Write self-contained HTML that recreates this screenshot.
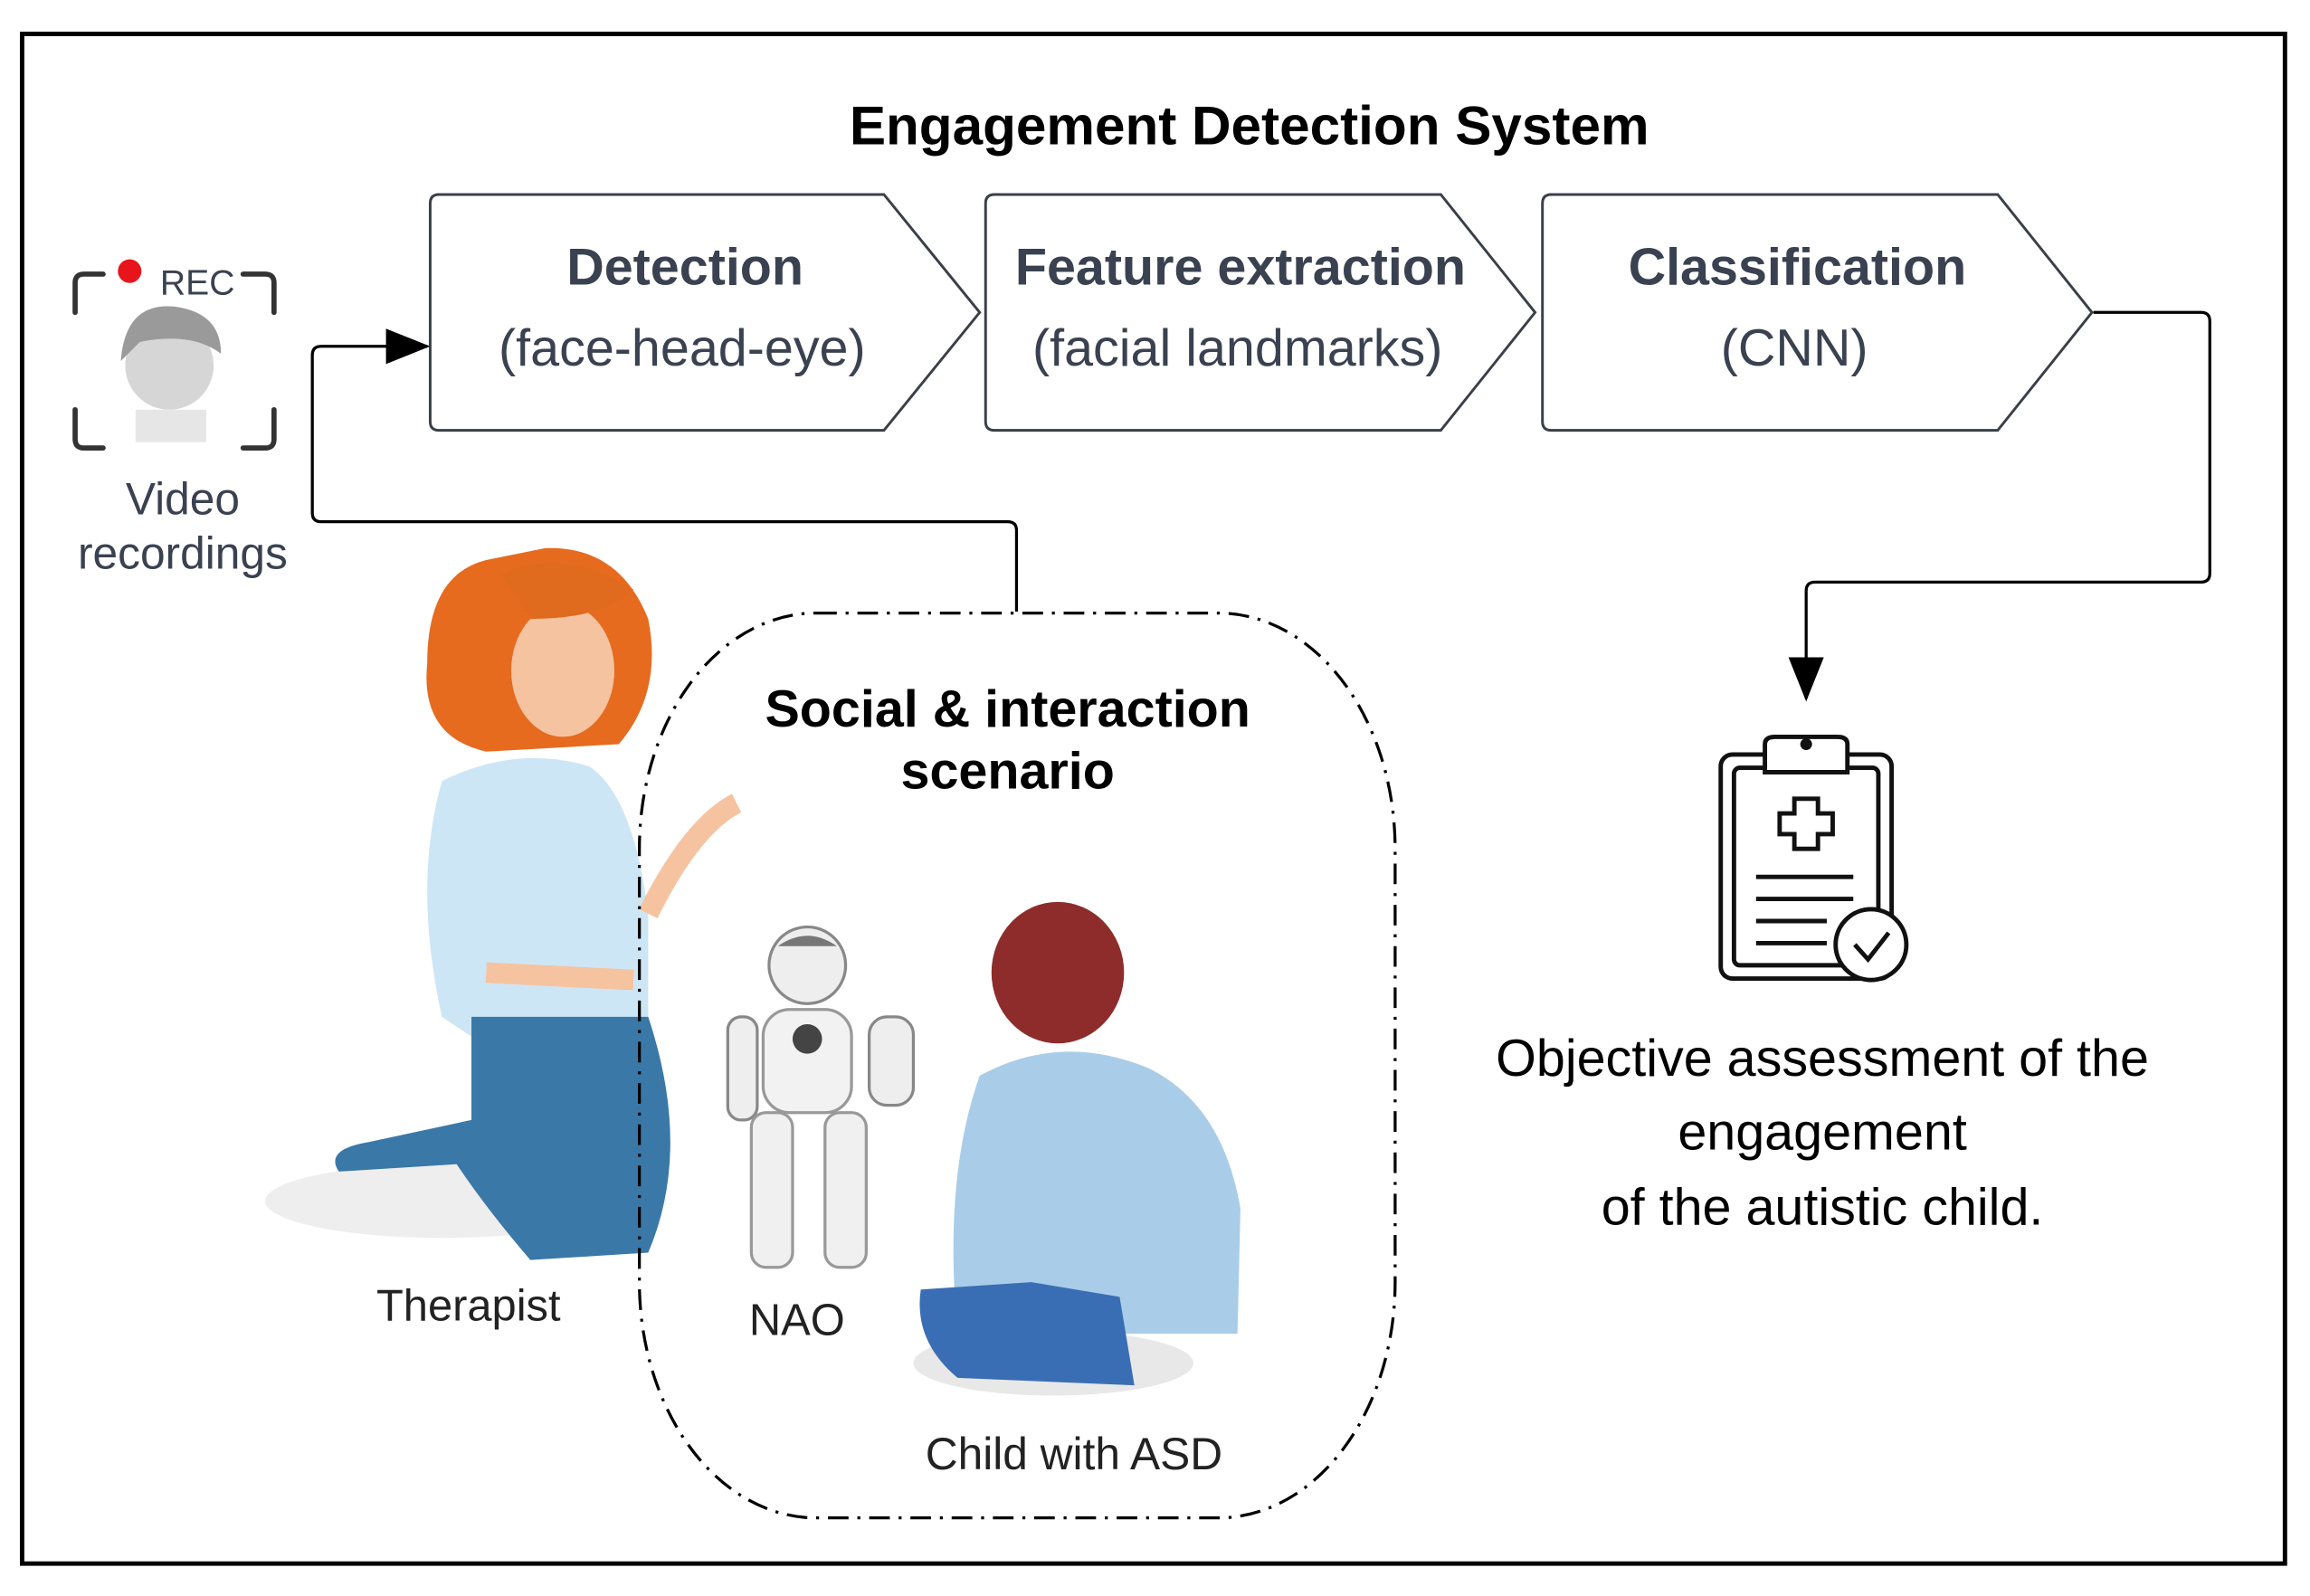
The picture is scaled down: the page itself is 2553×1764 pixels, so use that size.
<!DOCTYPE html>
<html><head><meta charset="utf-8"><style>
html,body{margin:0;padding:0;background:#fff}
svg{display:block}
text{font-family:"Liberation Sans",sans-serif}
</style></head><body>
<svg width="2553" height="1764" viewBox="0 0 1568 1083" preserveAspectRatio="none" xmlns="http://www.w3.org/2000/svg">
<defs>
<marker id="ah" markerWidth="30" markerHeight="24" refX="28" refY="12" orient="auto" markerUnits="userSpaceOnUse" viewBox="0 0 30 24">
<path d="M0,0 L30,12 L0,24 z" fill="#000"/></marker>
</defs>
<rect x="0" y="0" width="1568" height="1083" fill="#fff"/>
<rect x="15" y="23" width="1536" height="1038" fill="none" stroke="#000" stroke-width="3"/>
<text x="848" y="98" text-anchor="middle" font-size="37" font-weight="bold" fill="#000">Engagement Detection System</text>

<g fill="#fff" stroke="#3a3f48" stroke-width="1.8">
<path d="M298,132 L600,132 L665,212 L600,292 L298,292 Q292,292 292,286 L292,138 Q292,132 298,132 z"/>
<path d="M675,132 L978,132 L1042,212 L978,292 L675,292 Q669,292 669,286 L669,138 Q669,132 675,132 z"/>
<path d="M1053,132 L1356,132 L1420,212 L1356,292 L1053,292 Q1047,292 1047,286 L1047,138 Q1047,132 1053,132 z"/>
</g>
<g fill="#3a4150" font-size="35.3" text-anchor="middle">
<text x="465" y="193" font-weight="bold">Detection</text>
<text x="463" y="248">(face-head-eye)</text>
<text x="842" y="193" font-weight="bold">Feature extraction</text>
<text x="840" y="248">(facial landmarks)</text>
<text x="1220" y="193" font-weight="bold">Classification</text>
<text x="1218" y="248">(CNN)</text>
</g>

<!-- REC icon -->
<g fill="none" stroke="#333" stroke-width="3.5" stroke-linecap="round">
<path d="M51,212 L51,192 Q51,186 57,186 L70,186"/>
<path d="M165,186 L180,186 Q186,186 186,192 L186,212"/>
<path d="M51,278 L51,298 Q51,304 57,304 L70,304"/>
<path d="M165,304 L180,304 Q186,304 186,298 L186,278"/>
</g>
<circle cx="88" cy="184" r="8" fill="#e8141c"/>
<text x="134" y="200" text-anchor="middle" font-size="24" fill="#3a4150">REC</text>
<circle cx="115" cy="248" r="30" fill="#d6d6d6"/>
<path d="M82,245 Q85,205 118,208 Q150,212 150,240 Q130,225 95,232 z" fill="#9a9a9a"/>
<rect x="92" y="278" width="48" height="22" fill="#e6e6e6"/>
<text x="124" y="349" text-anchor="middle" font-size="30.5" fill="#3a4150">Video</text>
<text x="124" y="386" text-anchor="middle" font-size="30.5" fill="#3a4150">recordings</text>

<!-- connectors -->
<path d="M690,415 L690,360 Q690,354 684,354 L218,354 Q212,354 212,348 L212,241 Q212,235 218,235 L290,235" fill="none" stroke="#000" stroke-width="2" marker-end="url(#ah)"/>
<path d="M1421,212 L1494,212 Q1500,212 1500,218 L1500,389 Q1500,395 1494,395 L1232,395 Q1226,395 1226,401 L1226,474" fill="none" stroke="#000" stroke-width="2" marker-end="url(#ah)"/>

<!-- therapist illustration -->
<ellipse cx="300" cy="815" rx="120" ry="25" fill="#eeeeee"/>
<path d="M330,380 Q290,390 290,450 Q285,500 330,510 L420,505 Q450,470 440,420 Q420,370 370,372 z" fill="#e66b1f"/>
<ellipse cx="382" cy="455" rx="35" ry="45" fill="#f6c3a0"/>
<path d="M340,390 Q380,370 430,400 Q410,420 360,420 z" fill="#e06a1e"/>
<path d="M300,530 Q350,505 400,520 Q430,540 440,620 L440,700 L330,710 L300,690 Q280,600 300,530 z" fill="#cde6f5"/>
<path d="M440,620 Q470,560 500,545" stroke="#f6c3a0" stroke-width="14" fill="none"/>
<path d="M320,690 L440,690 Q470,780 440,850 L360,855 Q330,820 310,790 L230,795 Q220,780 250,775 L320,760 z" fill="#3a78a8"/>
<path d="M330,660 L430,665" stroke="#f6c3a0" stroke-width="14"/>
<text x="318" y="896" text-anchor="middle" font-size="30" fill="#222">Therapist</text>

<!-- robot -->
<ellipse cx="548" cy="655" rx="26" ry="26" fill="#eee" stroke="#888" stroke-width="2"/>
<path d="M528,642 Q548,628 568,642" fill="#777"/>
<rect x="518" y="685" width="60" height="70" rx="18" fill="#f2f2f2" stroke="#999" stroke-width="2"/>
<circle cx="548" cy="705" r="10" fill="#444"/>
<rect x="494" y="690" width="20" height="70" rx="9" fill="#eee" stroke="#888" stroke-width="2"/>
<rect x="590" y="690" width="30" height="60" rx="12" fill="#eee" stroke="#888" stroke-width="2"/>
<rect x="510" y="755" width="28" height="105" rx="10" fill="#f0f0f0" stroke="#999" stroke-width="2"/>
<rect x="560" y="755" width="28" height="105" rx="10" fill="#f0f0f0" stroke="#999" stroke-width="2"/>
<text x="541" y="906" text-anchor="middle" font-size="30" fill="#222">NAO</text>

<!-- child -->
<ellipse cx="715" cy="925" rx="95" ry="22" fill="#e8e8e8"/>
<ellipse cx="718" cy="660" rx="45" ry="48" fill="#8e2c2c"/>
<path d="M665,730 Q720,700 780,725 Q830,750 842,820 L840,905 L650,905 Q640,800 665,730 z" fill="#a9cde8"/>
<path d="M625,875 L700,870 L760,880 L770,940 L650,935 Q620,910 625,875 z" fill="#3a6eb4"/>
<text x="729" y="997" text-anchor="middle" font-size="30.5" fill="#222">Child with ASD</text>

<!-- scenario boundary -->
<rect x="434" y="416" width="513" height="614" rx="120" ry="160" fill="none" stroke="#000" stroke-width="2" stroke-dasharray="14,6,2,6"/>
<text x="684" y="493" text-anchor="middle" font-size="35.3" font-weight="bold" fill="#000">Social &amp; interaction</text>
<text x="684" y="535" text-anchor="middle" font-size="35.3" font-weight="bold" fill="#000">scenario</text>

<!-- clipboard -->
<g fill="none" stroke="#111" stroke-width="3">
<rect x="1168" y="512" width="116" height="152" rx="8"/>
<rect x="1177" y="521" width="98" height="134" rx="4"/>
<path d="M1198,512 L1198,505 Q1198,500 1205,500 L1247,500 Q1254,500 1254,505 L1254,524 L1198,524 z" fill="#fff"/>
<path d="M1218,542 L1234,542 L1234,552 L1244,552 L1244,566 L1234,566 L1234,576 L1218,576 L1218,566 L1208,566 L1208,552 L1218,552 z"/>
<path d="M1192,595 L1258,595 M1192,610 L1258,610 M1192,625 L1240,625 M1192,640 L1240,640"/>
<circle cx="1270" cy="641" r="24" fill="#fff"/>
<path d="M1259,641 L1268,651 L1282,633"/>
</g>
<circle cx="1226" cy="505" r="4" fill="#111"/>
<g font-size="35.3" fill="#000" text-anchor="middle">
<text x="1237" y="730">Objective assessment of the</text>
<text x="1237" y="780">engagement</text>
<text x="1237" y="831">of the autistic child.</text>
</g>
</svg>
</body></html>
